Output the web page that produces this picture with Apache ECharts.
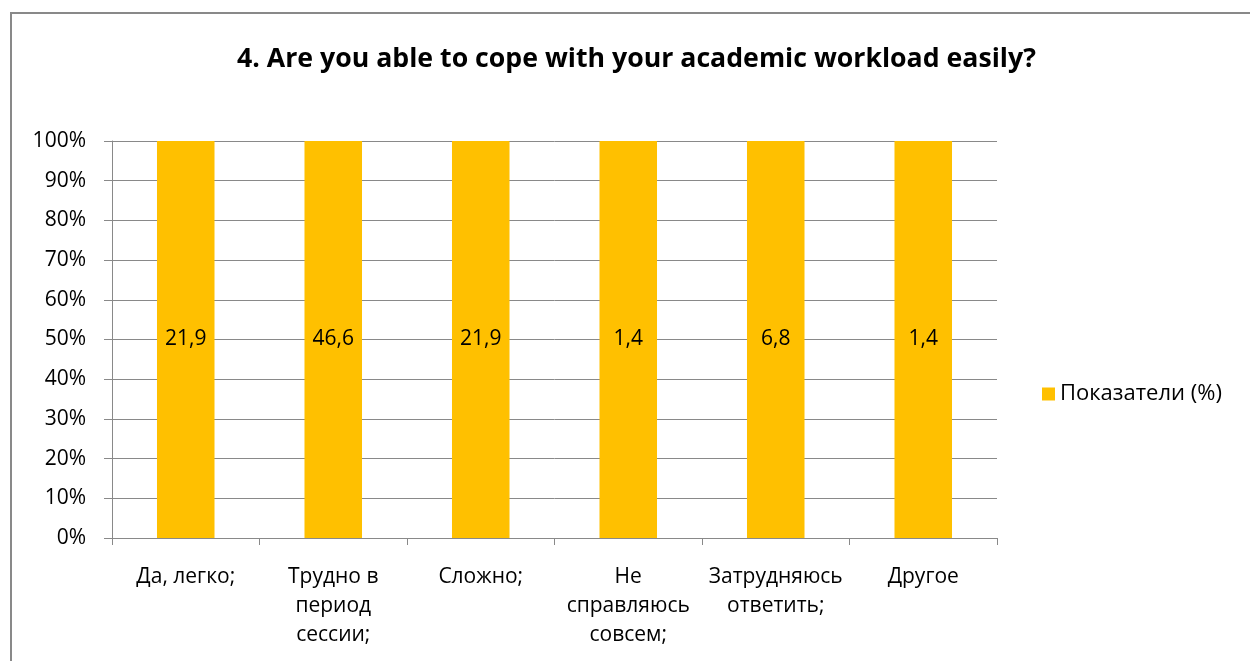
<!DOCTYPE html>
<html>
<head>
<meta charset="utf-8">
<script src="https://cdn.jsdelivr.net/npm/echarts@6/dist/echarts.min.js"></script>
<style>
  html, body { margin: 0; padding: 0; background: #fff; }
  #chart { width: 1250px; height: 661px; }
</style>
</head>
<body>
<div id="chart"></div>
<script>
// Survey answers, one bar per answer option
const categories = [
  'Да, легко;',
  'Трудно в\nпериод\nсессии;',
  'Сложно;',
  'Не\nсправляюсь\nсовсем;',
  'Затрудняюсь\nответить;',
  'Другое'
];
const seriesName = 'Показатели (%)';
const values = [21.9, 46.6, 21.9, 1.4, 6.8, 1.4];
const yTicks = [0, 10, 20, 30, 40, 50, 60, 70, 80, 90, 100];

// 100% stacked columns: each bar shows its share of the category's stack total
const allSeries = [values];
const stackTotals = categories.map((_, i) => allSeries.reduce((s, arr) => s + arr[i], 0));
const shares = values.map((v, i) => (v / stackTotals[i]) * 100);

const fontFamily = '"Open Sans", "Noto Sans", sans-serif';
const gray = '#898989';
const labelSize = 21;

const chart = echarts.init(document.getElementById('chart'), null, { renderer: 'canvas' });
chart.setOption({
  backgroundColor: '#ffffff',
  animation: false,
  title: {
    text: '4. Are you able to cope with your academic workload easily?',
    left: 232,
    top: 41,
    textStyle: { fontFamily, fontWeight: 'bold', fontSize: 26.7, color: '#000' }
  },
  legend: {
    data: [seriesName],
    left: 1037,
    top: 378,
    orient: 'vertical',
    icon: 'rect',
    itemWidth: 13,
    itemHeight: 13,
    itemGap: 8,
    textStyle: { fontFamily, fontSize: 22, color: '#000' }
  },
  grid: { left: 112, right: 253, top: 141, bottom: 123, containLabel: false },
  xAxis: {
    type: 'category',
    data: categories,
    axisLine: { lineStyle: { color: gray, width: 1 } },
    axisTick: { show: true, length: 7, alignWithLabel: false, lineStyle: { color: gray } },
    axisLabel: {
      interval: 0,
      margin: 25,
      lineHeight: 29,
      fontFamily,
      fontSize: labelSize,
      color: '#000'
    }
  },
  yAxis: {
    type: 'value',
    min: yTicks[0],
    max: yTicks[yTicks.length - 1],
    interval: yTicks[1] - yTicks[0],
    axisLine: { show: true, lineStyle: { color: gray, width: 1 } },
    axisTick: { show: true, length: 8, lineStyle: { color: gray } },
    splitLine: { show: true, lineStyle: { color: gray, width: 1 } },
    axisLabel: {
      formatter: '{value}%',
      margin: 26,
      fontFamily,
      fontSize: labelSize,
      color: '#000'
    }
  },
  series: [{
    name: seriesName,
    type: 'bar',
    stack: 'total',
    barWidth: '39%',
    data: shares,
    itemStyle: { color: '#FFC000' },
    label: {
      show: true,
      position: 'inside',
      fontFamily,
      fontSize: labelSize,
      color: '#000',
      formatter: p => String(values[p.dataIndex]).replace('.', ',')
    }
  }],
  graphic: [{
    type: 'rect',
    shape: { x: 11, y: 13, width: 1300, height: 700 },
    style: { fill: 'none', stroke: gray, lineWidth: 2 },
    silent: true,
    z: -1
  }]
});
</script>
</body>
</html>
